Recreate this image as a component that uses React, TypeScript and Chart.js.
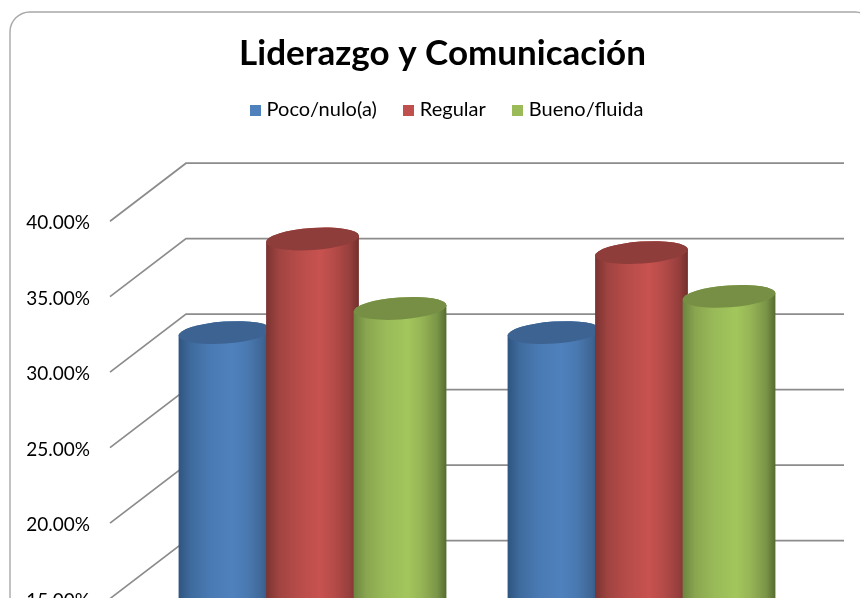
import React, { useEffect, useRef } from "react";
import { Chart, registerables } from "chart.js";

Chart.register(...registerables);

const TITLE = "Liderazgo y Comunicación";
const CATEGORIES = ["Liderazgo", "Comunicación"];
const POCO = [0.307, 0.307];
const REGULAR = [0.369, 0.36];
const BUENO = [0.323, 0.331];

const FONT = "Lato, Carlito, Calibri, sans-serif";
const DEPTH_X = 76;
const DEPTH_Y = 58;

const SHADES = [
  { base: "#4f81bd", top: "#3d6392", stops: ["#2f5580", "#3f6c9f", "#4a7ab3", "#4f81bd", "#4a79b1", "#3f6796", "#2e5078"] },
  { base: "#c0504d", top: "#8f3d3a", stops: ["#7a3331", "#a04441", "#b64c49", "#c8524f", "#b44b48", "#963f3d", "#722f2d"] },
  { base: "#9bbb59", top: "#768f45", stops: ["#6c8540", "#8aa650", "#99ba58", "#a3c65c", "#95b355", "#7a9547", "#566b30"] },
];

function legendSwatch(color: string) {
  const c = document.createElement("canvas");
  c.width = 11;
  c.height = 11;
  const g = c.getContext("2d")!;
  g.fillStyle = color;
  g.fillRect(0, 0, 11, 11);
  return c;
}

function drawCylinders(chart: any, index: number) {
  const { ctx } = chart;
  const shade = SHADES[index];
  const meta = chart.getDatasetMeta(index);
  for (const el of meta.data) {
    const cx = el.x + DEPTH_X / 2;
    const topY = el.y - DEPTH_Y / 2;
    const baseY = el.base - DEPTH_Y / 2;
    const rx = (el.width * 1.063) / 2;
    const ry = 11;
    const tilt = -0.07;
    const grad = ctx.createLinearGradient(cx - rx, 0, cx + rx, 0);
    const offs = [0, 0.14, 0.34, 0.58, 0.74, 0.9, 1];
    shade.stops.forEach((c: string, i: number) => grad.addColorStop(offs[i], c));
    ctx.save();
    ctx.fillStyle = grad;
    ctx.beginPath();
    ctx.ellipse(cx, baseY, rx, ry, tilt, 0, Math.PI);
    ctx.ellipse(cx, topY, rx, ry, tilt, Math.PI, Math.PI * 2);
    ctx.closePath();
    ctx.fill();
    ctx.fillStyle = shade.top;
    ctx.beginPath();
    ctx.ellipse(cx, topY, rx, ry, tilt, 0, Math.PI * 2);
    ctx.fill();
    ctx.restore();
  }
}

const cylinderPlugin = {
  id: "cylinders",
  afterLayout(chart: any) {
    chart.legend.left += 6;
    chart.legend.right += 6;
    chart.legend.top -= 5;
    chart.legend.bottom -= 5;
  },
  beforeDraw(chart: any) {
    const { ctx, width } = chart;
    ctx.save();
    ctx.fillStyle = "#ffffff";
    ctx.fillRect(0, 0, width, chart.height);
    ctx.beginPath();
    ctx.roundRect(10, 12, width - 20, chart.height - 20, 20);
    ctx.strokeStyle = "#a8a8a8";
    ctx.lineWidth = 1.4;
    ctx.stroke();
    ctx.restore();
  },
  beforeDatasetsDraw(chart: any) {
    const { ctx, chartArea } = chart;
    const y = chart.scales.y;
    ctx.save();
    ctx.strokeStyle = "#8c8c8c";
    ctx.lineWidth = 1.7;
    for (const tick of y.ticks) {
      const py = y.getPixelForValue(tick.value);
      ctx.beginPath();
      ctx.moveTo(chartArea.left, py);
      ctx.lineTo(chartArea.left + DEPTH_X, py - DEPTH_Y);
      ctx.lineTo(chartArea.right + DEPTH_X, py - DEPTH_Y);
      ctx.stroke();
    }
    ctx.restore();
    // first series at the back, last series in front
    chart.data.datasets.forEach((_: any, i: number) => drawCylinders(chart, i));
  },
  beforeDatasetDraw() {
    return false;
  },
};

export default function App() {
  const ref = useRef<HTMLCanvasElement>(null);
  useEffect(() => {
    document.body.style.margin = "0";
    const chart = new Chart(ref.current!, {
      type: "bar",
      data: {
        labels: CATEGORIES,
        datasets: [
          { label: "Poco/nulo(a)", data: POCO, backgroundColor: SHADES[0].base, pointStyle: legendSwatch(SHADES[0].base) },
          { label: "Regular", data: REGULAR, backgroundColor: SHADES[1].base, pointStyle: legendSwatch(SHADES[1].base) },
          { label: "Bueno/fluida", data: BUENO, backgroundColor: SHADES[2].base, pointStyle: legendSwatch(SHADES[2].base) },
        ],
      },
      options: {
        animation: false,
        responsive: false,
        categoryPercentage: 0.798,
        barPercentage: 1,
        layout: { padding: { left: 0, right: 0, top: 0, bottom: 15 } },
        plugins: {
          title: {
            display: true,
            text: TITLE,
            color: "#000000",
            font: { family: FONT, size: 35, weight: "bold" },
            padding: { top: 33, bottom: 0 },
          },
          legend: {
            display: true,
            position: "top",
            labels: {
              color: "#000000",
              font: { family: FONT, size: 20 },
              usePointStyle: true,
              pointStyleWidth: 3,
              boxHeight: 11,
              padding: 30,
            },
          },
          subtitle: {
            display: true,
            text: " ",
            weight: 500,
            font: { size: 1 },
            padding: { top: 0, bottom: 85 },
          },
          tooltip: { enabled: false },
        },
        scales: {
          x: {
            grid: { display: false },
            border: { display: false },
            ticks: { color: "#000000", font: { family: FONT, size: 18 } },
            afterFit(scale: any) {
              scale.height = 20;
            },
          },
          y: {
            min: 0,
            max: 0.4,
            grid: { display: false },
            border: { display: false },
            ticks: {
              stepSize: 0.05,
              padding: 12,
              labelOffset: 2,
              color: "#000000",
              font: { family: FONT, size: 19 },
              callback: (v: any) => (Number(v) * 100).toFixed(2) + "%",
            },
            afterFit(scale: any) {
              scale.width = 110;
            },
          },
          yRightGap: {
            position: "right",
            display: true,
            grid: { display: false },
            border: { display: false },
            ticks: { display: false },
            afterFit(scale: any) {
              scale.width = 117;
            },
          },
        },
      } as any,
      plugins: [cylinderPlugin as any],
    });
    return () => chart.destroy();
  }, []);
  return (
    <div style={{ position: "fixed", left: 0, top: 0, width: 860, height: 598, overflow: "hidden", background: "#fff" }}>
      <canvas ref={ref} width={885} height={860} style={{ display: "block", filter: "blur(0.4px)" }} />
    </div>
  );
}
